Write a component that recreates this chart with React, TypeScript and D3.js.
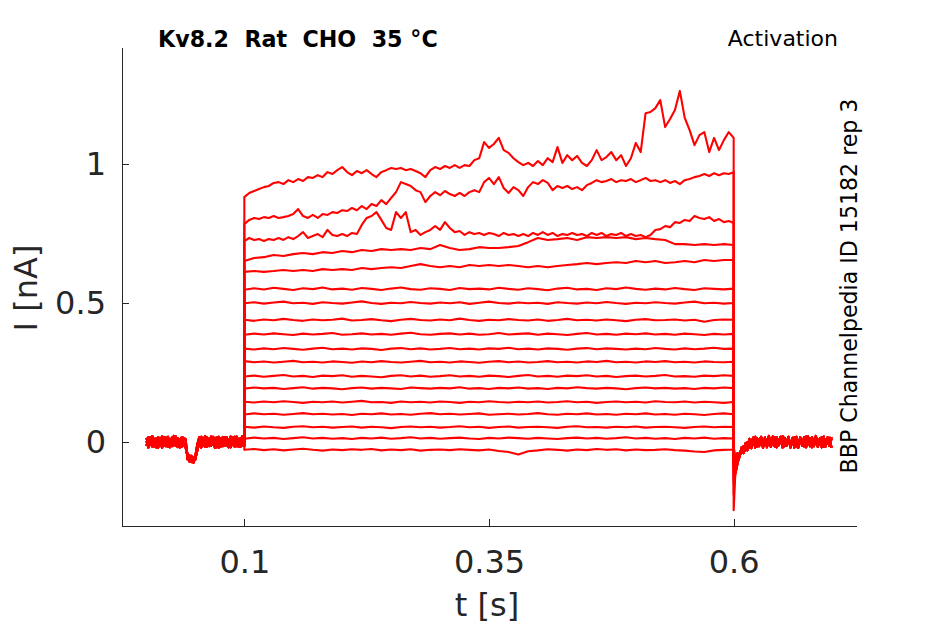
import React, { useRef, useEffect } from 'react';
import * as d3 from 'd3';

// currents in pA during the 0.1 - 0.6 s step, evenly sampled
const traceA = [
  881, 896, 903, 910, 917, 921, 932, 935, 928, 942,
  935, 946, 939, 953, 950, 960, 953, 971, 964, 978,
  989, 971, 960, 975, 967, 978, 964, 953, 971, 978,
  986, 982, 986, 978, 982, 975, 967, 953, 978, 989,
  982, 993, 986, 996, 986, 996, 993, 1014, 1021, 1079,
  1058, 1072, 1094, 1050, 1040, 1021, 1007, 996, 1004, 993,
  1011, 996, 1021, 1007, 1061, 1004, 1032, 1014, 1029, 1004,
  993, 1014, 1050, 1014, 1025, 1043, 1014, 1032, 993, 1021,
  1076, 1043, 1183, 1187, 1201, 1230, 1133, 1162, 1194, 1263,
  1166, 1122, 1068, 1104, 1115, 1043, 1094, 1050, 1086, 1115,
  1094
];
const traceB = [
  784, 799, 806, 802, 809, 806, 813, 806, 809, 813,
  820, 838, 813, 806, 817, 806, 820, 817, 827, 824,
  834, 831, 842, 834, 849, 838, 856, 849, 870, 856,
  878, 899, 935, 928, 921, 906, 899, 863, 885, 899,
  888, 903, 892, 885, 896, 885, 899, 906, 899, 935,
  950, 928, 953, 914, 896, 917, 906, 885, 917, 935,
  928, 942, 932, 906, 921, 914, 921, 910, 917, 906,
  924, 932, 942, 935, 939, 946, 935, 942, 939, 946,
  935, 942, 950, 939, 942, 935, 942, 932, 939, 928,
  942, 946, 953, 957, 964, 957, 967, 960, 967, 964,
  971
];
const traceC = [
  723, 734, 727, 730, 723, 730, 727, 734, 727, 737,
  730, 741, 755, 734, 741, 748, 737, 763, 745, 741,
  748, 741, 752, 748, 781, 806, 813, 827, 799, 770,
  763, 827, 806, 827, 755, 763, 745, 755, 763, 777,
  763, 791, 770, 755, 759, 745, 755, 748, 752, 745,
  752, 748, 741, 752, 745, 748, 741, 748, 741, 752,
  745, 755, 745, 752, 741, 748, 745, 752, 745, 748,
  741, 752, 745, 752, 741, 748, 745, 752, 741, 748,
  741, 745, 737, 745, 763, 766, 777, 773, 791, 788,
  799, 795, 813, 806, 802, 809, 795, 802, 791, 795,
  788
];
const traceD = [
  651, 662, 665, 673, 669, 676, 680, 676, 683, 680,
  687, 683, 691, 687, 694, 691, 694, 691, 698, 694,
  709, 698, 691, 694, 701, 698, 698, 701, 705, 719,
  734, 727, 730, 734, 727, 737, 734, 737, 734, 737,
  730, 734, 730, 727, 712, 712, 709, 712, 709, 712,
  709
];
const traceE = [
  612, 615, 612, 615, 619, 615, 619, 615, 622, 619,
  622, 619, 626, 622, 626, 629, 626, 633, 640, 633,
  629, 633, 629, 637, 633, 637, 633, 637, 633, 629,
  633, 629, 633, 637, 640, 644, 640, 644, 647, 644,
  651, 647, 651, 644, 647, 651, 647, 655, 651, 655,
  655
];
const traceF = [
  548, 553, 549, 555, 551, 547, 553, 550, 556, 549,
  552, 548, 554, 551, 547, 552, 556, 550, 548, 553,
  551, 547, 554, 550, 552, 549, 555, 551, 548, 553,
  550, 546, 552, 555, 549, 551, 547, 553, 550, 556,
  551, 548, 552, 549, 554, 550, 547, 553, 551, 549,
  552
];
const traceG = [
  499, 503, 498, 502, 505, 499, 501, 497, 503, 500,
  498, 502, 506, 500, 497, 501, 499, 504, 500, 498,
  502, 499, 503, 497, 501, 505, 500, 498, 502, 499,
  501, 497, 503, 500, 498, 502, 499, 504, 500, 497,
  501, 499, 503, 500, 498, 502, 505, 499, 501, 498,
  500
];
const traceH = [
  440, 436, 441, 438, 443, 439, 436, 441, 438, 440,
  444, 437, 439, 442, 438, 435, 440, 443, 439, 437,
  441, 438, 444, 439, 436, 440, 438, 442, 439, 437,
  441, 436, 439, 443, 438, 440, 437, 441, 438, 435,
  440, 442, 438, 439, 441, 437, 440, 433, 439, 441,
  440
];
const traceI = [
  386, 390, 387, 391, 388, 385, 390, 387, 389, 392,
  386, 388, 391, 387, 389, 386, 390, 393, 388, 386,
  389, 391, 387, 390, 386, 388, 392, 387, 389, 391,
  386, 390, 388, 385, 389, 392, 387, 389, 386, 390,
  388, 391, 387, 389, 386, 390, 388, 385, 389, 387,
  389
];
const traceJ = [
  336, 333, 337, 334, 338, 335, 332, 336, 339, 334,
  336, 333, 337, 335, 331, 336, 338, 334, 337, 333,
  335, 338, 334, 336, 333, 337, 335, 339, 334, 336,
  333, 337, 335, 332, 336, 338, 334, 337, 335, 333,
  336, 334, 338, 335, 333, 337, 334, 336, 339, 335,
  336
];
const traceK = [
  291, 287, 290, 286, 289, 292, 287, 289, 286, 290,
  288, 285, 290, 287, 291, 288, 286, 289, 292, 287,
  289, 286, 290, 288, 285, 289, 291, 287, 290, 286,
  288, 291, 287, 289, 286, 290, 288, 292, 287, 289,
  286, 290, 288, 291, 287, 289, 286, 290, 288, 287,
  289
];
const traceL = [
  236, 239, 235, 238, 241, 236, 238, 234, 239, 237,
  240, 235, 238, 236, 233, 238, 240, 236, 239, 235,
  237, 240, 236, 238, 235, 239, 237, 234, 238, 241,
  236, 238, 235, 239, 237, 240, 236, 238, 234, 237,
  239, 236, 238, 241, 236, 237, 235, 239, 237, 240,
  238
];
const traceM = [
  192, 196, 193, 195, 191, 194, 197, 192, 195, 193,
  190, 194, 196, 192, 195, 193, 191, 196, 194, 192,
  195, 193, 197, 192, 194, 191, 195, 193, 196, 192,
  194, 191, 195, 193, 197, 194, 192, 195, 193, 190,
  194, 196, 193, 195, 192, 194, 191, 195, 193, 196,
  194
];
const traceN = [
  145, 142, 146, 143, 147, 144, 141, 145, 143, 146,
  142, 145, 148, 143, 144, 141, 146, 143, 145, 142,
  146, 144, 141, 145, 143, 147, 144, 142, 145, 143,
  146, 142, 144, 147, 143, 145, 141, 144, 146, 143,
  145, 142, 147, 144, 143, 146, 142, 145, 143, 141,
  144
];
const traceO = [
  99, 103, 100, 102, 98, 101, 104, 100, 102, 99,
  101, 97, 102, 100, 103, 99, 101, 98, 102, 104,
  100, 102, 99, 101, 103, 98, 100, 102, 99, 101,
  104, 100, 98, 102, 100, 103, 99, 101, 98, 102,
  100, 103, 99, 101, 98, 102, 100, 97, 101, 103,
  100
];
const traceP = [
  55, 52, 56, 53, 51, 55, 57, 53, 55, 52,
  54, 56, 52, 55, 53, 50, 54, 56, 53, 55,
  52, 54, 57, 53, 55, 51, 54, 56, 52, 54,
  55, 53, 51, 55, 57, 53, 54, 52, 55, 53,
  56, 52, 54, 55, 53, 51, 54, 56, 53, 55,
  54
];
const traceQ = [
  12, 16, 13, 15, 11, 14, 17, 13, 15, 12,
  14, 11, 15, 13, 16, 12, 14, 17, 13, 15,
  12, 14, 16, 13, 11, 15, 13, 16, 14, 12,
  15, 13, 11, 14, 16, 13, 15, 12, 14, 17,
  13, 15, 12, 14, 11, 15, 13, 16, 12, 14,
  13
];
const traceR = [
  -28, -25, -29, -26, -30, -27, -24, -28, -31, -27,
  -29, -26, -28, -25, -30, -27, -29, -26, -31, -28,
  -27, -29, -26, -28, -30, -27, -32, -36, -45, -33,
  -30, -26, -28, -31, -27, -29, -25, -28, -26, -30,
  -27, -29, -28, -26, -29, -31, -34, -36, -30, -28,
  -27
];

const pulseTraces = [
  traceA, traceB, traceC, traceD, traceE, traceF, traceG, traceH, traceI,
  traceJ, traceK, traceL, traceM, traceN, traceO, traceP, traceQ, traceR
];

// tail current right after the step ends (pA)
const tailPeak = [
  -245, -190, -150, -130, -115, -100, -90, -80, -70,
  -60, -55, -45, -40, -30, -25, -20, -15, -10
];

// holding current before the step, 2 ms samples from 0 s (pA)
const preA = [
  15, -12, 18, -16, 12, -19, 17, -10, 20, -14,
  16, -18, 11, -15, 19, -12, 14, -20, 17, -11,
  -20, -52, -70, -58, -66, -50, -8, 18, -15, 12,
  -18, 16, -13, 20, -10, 15, -19, 13, -16, 18,
  -12, 17, -17, 14, -11, 19, -15, 12, -18, 16,
  -9
];
const preB = [
  -14, 17, -11, 19, -16, 13, -20, 15, -9, 18,
  -15, 12, -19, 16, -12, 20, -14, 11, -17, 15,
  10, -62, -48, -72, -55, -63, -20, -14, 19, -12,
  15, -17, 12, -14, 19, -11, 16, -20, 13, -15,
  18, -13, 11, -19, 16, -10, 20, -16, 14, -12,
  17
];
const preC = [
  4, -20, 9, 21, -7, -17, 14, 2, -21, 11,
  -4, 19, -13, 6, 22, -9, -18, 8, 16, -6,
  -12, -45, -66, -50, -74, -57, -30, 6, -20, 9,
  21, -6, -15, 18, 3, -21, 10, 19, -8, -14,
  13, 5, -19, 20, -3, -16, 17, -10, 8, 21,
  -14
];
// holding current after the step, 2 ms samples from 0.602 s (pA)
const postA = [
  -90, -60, -45, -25, -40, -10, -30, 5, -22, 10,
  -18, 14, -15, 19, -12, 16, -19, 11, -14, 20,
  -16, 13, -10, 18, -17, 15, -11, 19, -14, 12,
  -20, 16, -13, 17, -9, 14, -18, 20, -15, 11,
  -12, 18, -16, 13, -19, 15, -10, 17, -14, 12
];
const postB = [
  -70, -40, -55, -20, -35, -5, -25, 12, -15, 16,
  -20, 11, -13, 18, -16, 14, -11, 20, -18, 13,
  -15, 17, -12, 19, -20, 10, -14, 16, -17, 15,
  -11, 19, -16, 12, -14, 18, -19, 13, -10, 17,
  -15, 14, -18, 11, -13, 20, -16, 15, -12, 18
];
const postC = [
  -110, -75, -50, -35, -15, -30, 0, -20, 8, -10,
  19, -18, 4, 16, -21, 9, -6, 22, -13, 3,
  18, -19, 10, -4, 21, -15, 6, 14, -20, 2,
  17, -11, -21, 12, 5, -16, 20, -8, 13, -19,
  7, 22, -12, -3, 18, -17, 10, -6, 15, -20
];
const preBaselines = [preA, preB, preC];
const postBaselines = [postA, postB, postC];

const xTicks = [0.1, 0.35, 0.6];
const yTicks = [0, 0.5, 1];

const App: React.FC = () => {
  const svgRef = useRef<SVGSVGElement | null>(null);

  useEffect(() => {
    const svg = d3.select(svgRef.current);
    svg.selectAll('*').remove();
    const axisColor = '#262626';
    const font = 'DejaVu Sans, sans-serif';

    const x = d3.scaleLinear().domain([-0.025, 0.725]).range([122, 856]);
    const y = d3.scaleLinear().domain([-0.302, 1.421]).range([526, 47]);

    const line = d3
      .line<[number, number]>()
      .x(d => x(d[0]))
      .y(d => y(d[1] / 1000));

    const traces = pulseTraces.map((vals, k) => {
      const pts: [number, number][] = [];
      preBaselines[k % 3].forEach((v, i) => pts.push([i * 0.002, v]));
      const step = 0.5 / (vals.length - 1);
      vals.forEach((v, i) => pts.push([0.1 + i * step, v]));
      pts.push([0.6, tailPeak[k]]);
      postBaselines[k % 3].forEach((v, i) => pts.push([0.602 + i * 0.002, v]));
      return pts;
    });

    svg
      .append('g')
      .selectAll('path')
      .data(traces.slice().reverse())
      .enter()
      .append('path')
      .attr('d', d => line(d) as string)
      .attr('fill', 'none')
      .attr('stroke', '#ff0000')
      .attr('stroke-width', 2.1)
      .attr('stroke-linejoin', 'round');

    const xAxis = svg
      .append('g')
      .attr('transform', 'translate(0,526)')
      .call(
        d3
          .axisBottom(x)
          .tickValues(xTicks)
          .tickFormat(d => String(d))
          .tickSizeInner(-7)
          .tickSizeOuter(0)
          .tickPadding(24)
      );

    const yAxis = svg
      .append('g')
      .attr('transform', 'translate(122,0)')
      .call(
        d3
          .axisLeft(y)
          .tickValues(yTicks)
          .tickFormat(d => String(d))
          .tickSizeInner(-7)
          .tickSizeOuter(0)
          .tickPadding(16)
      );

    [xAxis, yAxis].forEach(g => {
      g.select('.domain').attr('stroke', axisColor).attr('shape-rendering', 'crispEdges');
      g.selectAll('.tick line').attr('stroke', axisColor).attr('shape-rendering', 'crispEdges');
      g.selectAll('.tick text')
        .attr('fill', axisColor)
        .style('font-family', font)
        .style('font-size', '32px');
    });

    svg.append('text')
      .attr('x', 487)
      .attr('y', 616)
      .attr('text-anchor', 'middle')
      .style('font-family', font)
      .style('font-size', '32px')
      .attr('fill', axisColor)
      .text('t [s]');

    svg.append('text')
      .attr('transform', 'translate(37,288) rotate(-90)')
      .attr('text-anchor', 'middle')
      .style('font-family', font)
      .style('font-size', '32px')
      .attr('fill', axisColor)
      .text('I [nA]');

    svg.append('text')
      .attr('x', 158)
      .attr('y', 47)
      .style('font-family', font)
      .style('font-size', '22.2px')
      .style('font-weight', 'bold')
      .style('white-space', 'pre')
      .attr('fill', '#000')
      .text('Kv8.2  Rat  CHO  35 °C');

    svg.append('text')
      .attr('x', 838)
      .attr('y', 46)
      .attr('text-anchor', 'end')
      .style('font-family', font)
      .style('font-size', '22px')
      .attr('fill', '#000')
      .text('Activation');

    svg.append('text')
      .attr('transform', 'translate(857,286) rotate(-90)')
      .attr('text-anchor', 'middle')
      .style('font-family', font)
      .style('font-size', '22.1px')
      .attr('fill', '#000')
      .text('BBP Channelpedia ID 15182 rep 3');
  }, []);

  return (
    <svg
      ref={svgRef}
      width={945}
      height={624}
      style={{ position: 'absolute', left: 0, top: 0, background: '#fff' }}
    />
  );
};

export default App;
